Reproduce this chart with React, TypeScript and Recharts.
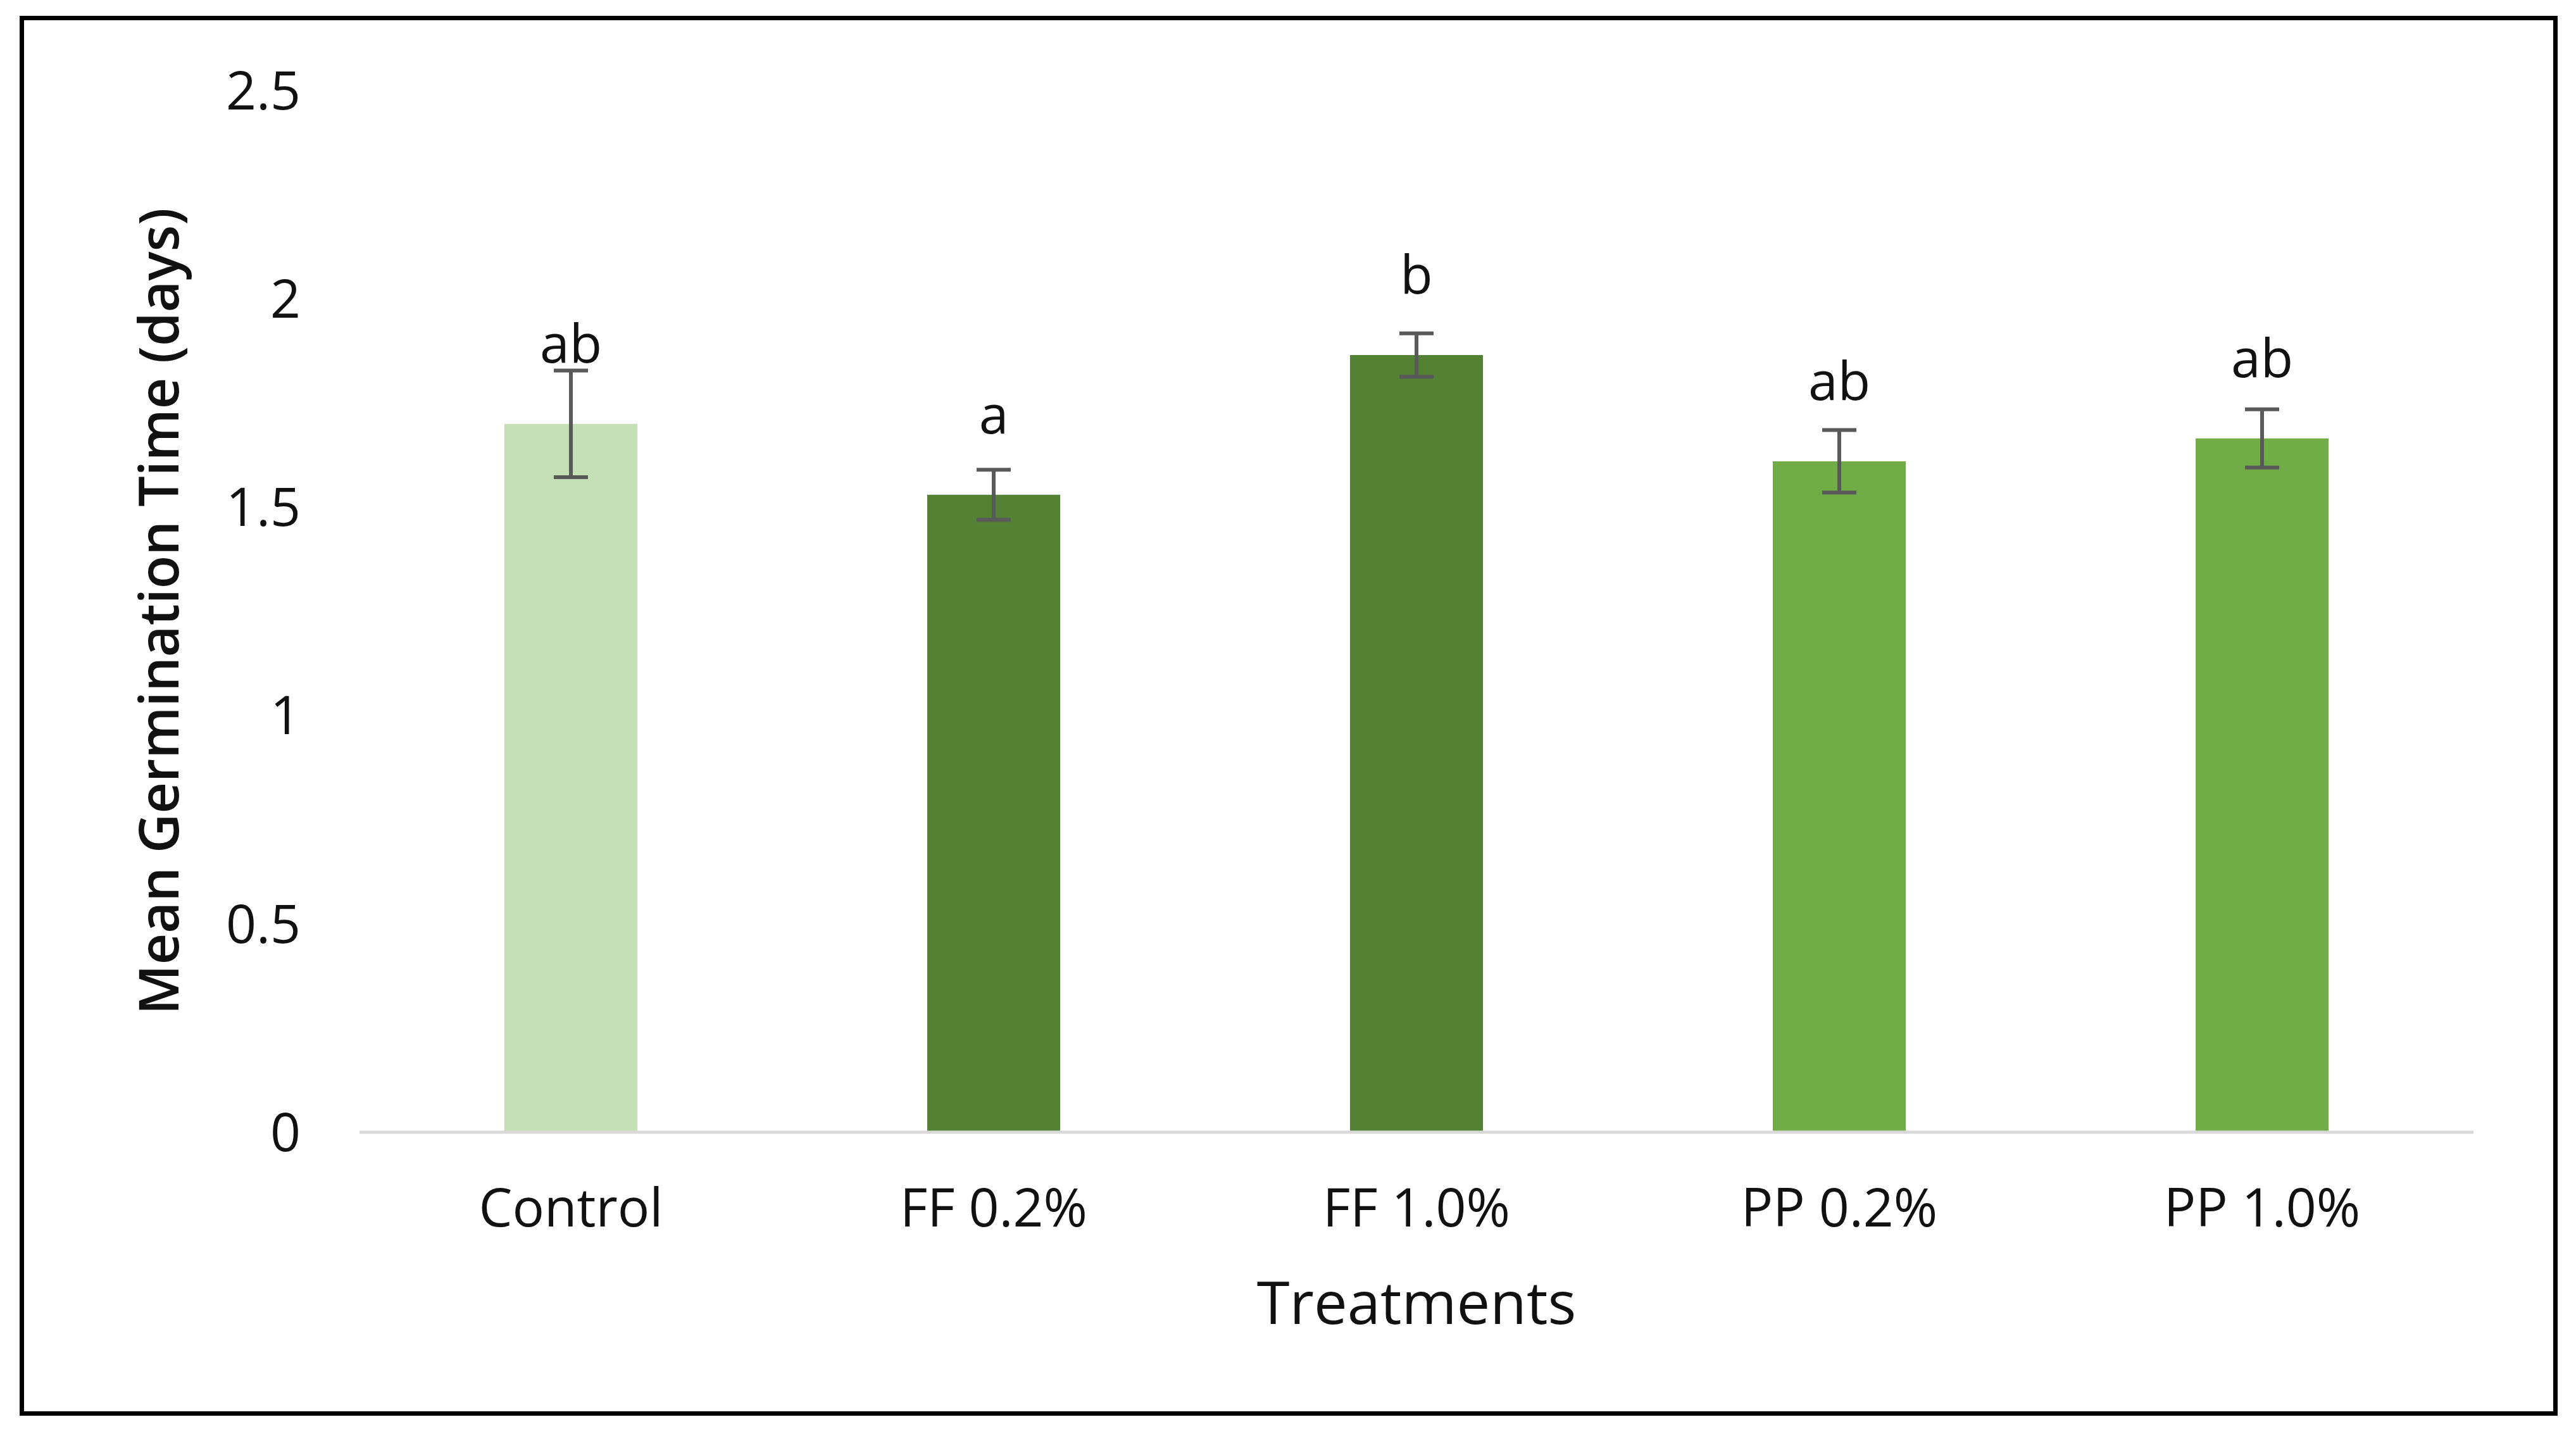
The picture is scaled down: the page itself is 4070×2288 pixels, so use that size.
import React from 'react'
import { BarChart, Bar, XAxis, YAxis, Cell, ErrorBar, LabelList } from 'recharts'

const treatments = ['Control', 'FF 0.2%', 'FF 1.0%', 'PP 0.2%', 'PP 1.0%']
const meanTime = [1.7, 1.53, 1.865, 1.61, 1.665]
const stdErr = [0.128, 0.06, 0.052, 0.075, 0.07]
const letters = ['ab', 'a', 'b', 'ab', 'ab']
const yTicks = [0, 0.5, 1, 1.5, 2, 2.5]

const COLORS = ['#C5E0B4', '#548235', '#548235', '#70AD47', '#70AD47']
const FONT = '"Open Sans", sans-serif'

const data = treatments.map((name, i) => ({
  name,
  mean: meanTime[i],
  err: stdErr[i],
  letter: letters[i],
}))

export default function App() {
  return (
    <div style={{ position: 'absolute', left: 0, top: 0, width: 4070, height: 2288, background: '#fff' }}>
      <div
        style={{
          position: 'absolute',
          left: 31,
          top: 25,
          width: 4010,
          height: 2212,
          border: '7px solid #000',
          boxSizing: 'border-box',
        }}
      />
      <div style={{ position: 'absolute', left: 0, top: 0 }}>
        <BarChart
          width={4070}
          height={2288}
          data={data}
          margin={{ top: 143, right: 162, left: 160, bottom: 0 }}
          barCategoryGap={0}
        >
          <XAxis
            dataKey="name"
            height={499}
            tickSize={0}
            tickMargin={89}
            axisLine={{ stroke: '#D9D9D9', strokeWidth: 5 }}
            tickLine={false}
            tick={{ fill: '#111', fontSize: 84, fontFamily: FONT }}
            label={{
              value: 'Treatments',
              position: 'insideBottom',
              offset: 196,
              fill: '#111',
              fontSize: 94,
              fontFamily: FONT,
            }}
          />
          <YAxis
            width={408}
            domain={[0, 2.5]}
            ticks={yTicks}
            tickSize={0}
            tickMargin={93}
            axisLine={false}
            tickLine={false}
            tick={{ fill: '#111', fontSize: 84, fontFamily: FONT }}
            label={{
              value: 'Mean Germination Time (days)',
              angle: -90,
              position: 'insideLeft',
              offset: 91,
              fill: '#111',
              fontSize: 86,
              fontWeight: 600,
              fontFamily: FONT,
              style: { textAnchor: 'middle' },
            }}
          />
          <Bar dataKey="mean" barSize={210} isAnimationActive={false}>
            {data.map((d, i) => (
              <Cell key={d.name} fill={COLORS[i]} />
            ))}
            <ErrorBar
              dataKey="err"
              width={27}
              stroke="#595959"
              strokeWidth={6}
              direction="y"
              isAnimationActive={false}
            />
            <LabelList
              dataKey="letter"
              position="top"
              offset={97}
              fill="#111"
              fontSize={84}
              fontFamily={FONT}
            />
          </Bar>
        </BarChart>
      </div>
    </div>
  )
}
